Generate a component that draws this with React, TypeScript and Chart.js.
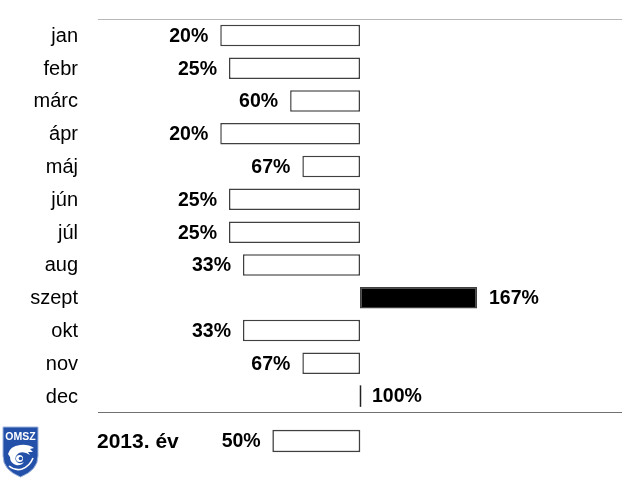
import React, { useEffect, useRef } from "react";
import { Chart, registerables } from "chart.js";

Chart.register(...registerables);

const months = ["jan", "febr", "márc", "ápr", "máj", "jún", "júl", "aug", "szept", "okt", "nov", "dec"];
const monthValues = [20, 25, 60, 20, 67, 25, 25, 33, 167, 33, 67, 100];
const yearLabel = "2013. év";
const yearValue = 50;
const baseline = 100;
const xMin = -50;
const xMax = 250;

const FONT = "'Liberation Sans', Arial, sans-serif";

const toFloating = (v: number) => [Math.min(v, baseline), Math.max(v, baseline)];

function drawValueLabels(chart: any, values: number[]) {
  const ctx = chart.ctx;
  const xs = chart.scales.x;
  const meta = chart.getDatasetMeta(0);
  ctx.save();
  ctx.font = `bold 19.5px ${FONT}`;
  ctx.fillStyle = "#000";
  ctx.textBaseline = "middle";
  values.forEach((v, i) => {
    const bar = meta.data[i];
    const y = bar.y;
    const h = bar.height;
    if (v === baseline) {
      ctx.strokeStyle = "#222";
      ctx.lineWidth = 1.5;
      const x = xs.getPixelForValue(baseline) + 0.5;
      ctx.beginPath();
      ctx.moveTo(x, y - h / 2);
      ctx.lineTo(x, y + h / 2);
      ctx.stroke();
    }
    const label = `${v}%`;
    if (v < baseline) {
      ctx.textAlign = "right";
      ctx.fillText(label, xs.getPixelForValue(v) - 12, y + 1);
    } else {
      ctx.textAlign = "left";
      ctx.fillText(label, xs.getPixelForValue(v) + 12, y + 1);
    }
  });
  ctx.restore();
}

const monthPlugin = {
  id: "monthDecor",
  afterDatasetsDraw(chart: any) {
    const ctx = chart.ctx;
    const { left, right, top, bottom } = chart.chartArea;
    const ys = chart.scales.y;
    ctx.save();
    ctx.lineWidth = 1;
    ctx.strokeStyle = "#b8b8b8";
    ctx.beginPath();
    ctx.moveTo(left, Math.round(top) + 0.5);
    ctx.lineTo(right, Math.round(top) + 0.5);
    ctx.stroke();
    ctx.strokeStyle = "#707070";
    ctx.beginPath();
    ctx.moveTo(left, Math.round(bottom) - 0.5);
    ctx.lineTo(right, Math.round(bottom) - 0.5);
    ctx.stroke();
    ctx.font = `20px ${FONT}`;
    ctx.fillStyle = "#000";
    ctx.textAlign = "right";
    ctx.textBaseline = "middle";
    months.forEach((m, i) => {
      ctx.fillText(m, 78, ys.getPixelForValue(i) + 1);
    });
    ctx.restore();
    drawValueLabels(chart, monthValues);
  },
};

const yearPlugin = {
  id: "yearDecor",
  afterDatasetsDraw(chart: any) {
    const ctx = chart.ctx;
    const ys = chart.scales.y;
    ctx.save();
    ctx.font = `bold 21px ${FONT}`;
    ctx.fillStyle = "#000";
    ctx.textAlign = "left";
    ctx.textBaseline = "middle";
    ctx.fillText(yearLabel, 97, ys.getPixelForValue(0) + 1);
    ctx.restore();
    drawValueLabels(chart, [yearValue]);
  },
};

function makeOptions(barOpts: any) {
  return {
    indexAxis: "y" as const,
    responsive: false,
    maintainAspectRatio: false,
    animation: false as const,
    events: [],
    layout: { padding: barOpts.padding },
    plugins: {
      legend: { display: false },
      tooltip: { enabled: false },
    },
    scales: {
      x: { type: "linear" as const, min: xMin, max: xMax, display: false },
      y: { type: "category" as const, display: false, offset: true },
    },
  };
}

export default function App() {
  const mainRef = useRef<HTMLCanvasElement | null>(null);
  const yearRef = useRef<HTMLCanvasElement | null>(null);

  useEffect(() => {
    document.body.style.margin = "0";
    const main = new Chart(mainRef.current as HTMLCanvasElement, {
      type: "bar",
      data: {
        labels: months,
        datasets: [
          {
            data: monthValues.map(toFloating) as any,
            backgroundColor: monthValues.map((v) => (v > baseline ? "#000000" : "#ffffff")),
            borderColor: "#404040",
            borderWidth: 1.5,
            borderSkipped: false,
            barPercentage: 0.8,
            categoryPercentage: 0.82,
          },
        ],
      },
      options: makeOptions({ padding: { left: 98, right: 18, top: 19, bottom: 67.5 } }) as any,
      plugins: [monthPlugin],
    });
    const year = new Chart(yearRef.current as HTMLCanvasElement, {
      type: "bar",
      data: {
        labels: [yearLabel],
        datasets: [
          {
            data: [toFloating(yearValue)] as any,
            backgroundColor: "#ffffff",
            borderColor: "#404040",
            borderWidth: 1.5,
            borderSkipped: false,
            barThickness: 22,
          },
        ],
      },
      options: makeOptions({ padding: { left: 98, right: 18, top: 0, bottom: 0 } }) as any,
      plugins: [yearPlugin],
    });
    return () => {
      main.destroy();
      year.destroy();
    };
  }, []);

  return (
    <div style={{ position: "fixed", left: 0, top: 0, width: 640, height: 480, background: "#fff", overflow: "hidden" }}>
      <canvas ref={mainRef} width={640} height={480} style={{ position: "absolute", left: 0, top: 0 }} />
      <canvas ref={yearRef} width={640} height={44} style={{ position: "absolute", left: 0, top: 419 }} />
      <svg width={45} height={56} viewBox="0 0 45 56" style={{ position: "absolute", left: 0, top: 424 }}>
        <path d="M3,3 H38 V32 Q38,46 20.5,53 Q3,46 3,32 Z" fill="#2350a8" stroke="#9fb4dc" strokeWidth={1} />
        <text x={20.5} y={16} fill="#fff" fontSize={10.5} fontWeight="bold" textAnchor="middle" fontFamily={FONT}>OMSZ</text>
        <path d="M8,30 Q10,22 20,21 Q28,20 34,24 L30,25 L33,28 L28,28 L30,31 Q24,27 19,29 Q14,32 16,37 Q19,41 24,38 Q21,42 16,41 Q10,39 10,33 Z" fill="#fff" />
        <circle cx={19.5} cy={34.5} r={3.5} fill="#fff" />
        <circle cx={20.5} cy={34.5} r={1.8} fill="#2350a8" />
        <path d="M9,42 Q15,47 22,45 Q30,42 33,34" stroke="#fff" strokeWidth={1.6} fill="none" />
      </svg>
    </div>
  );
}
